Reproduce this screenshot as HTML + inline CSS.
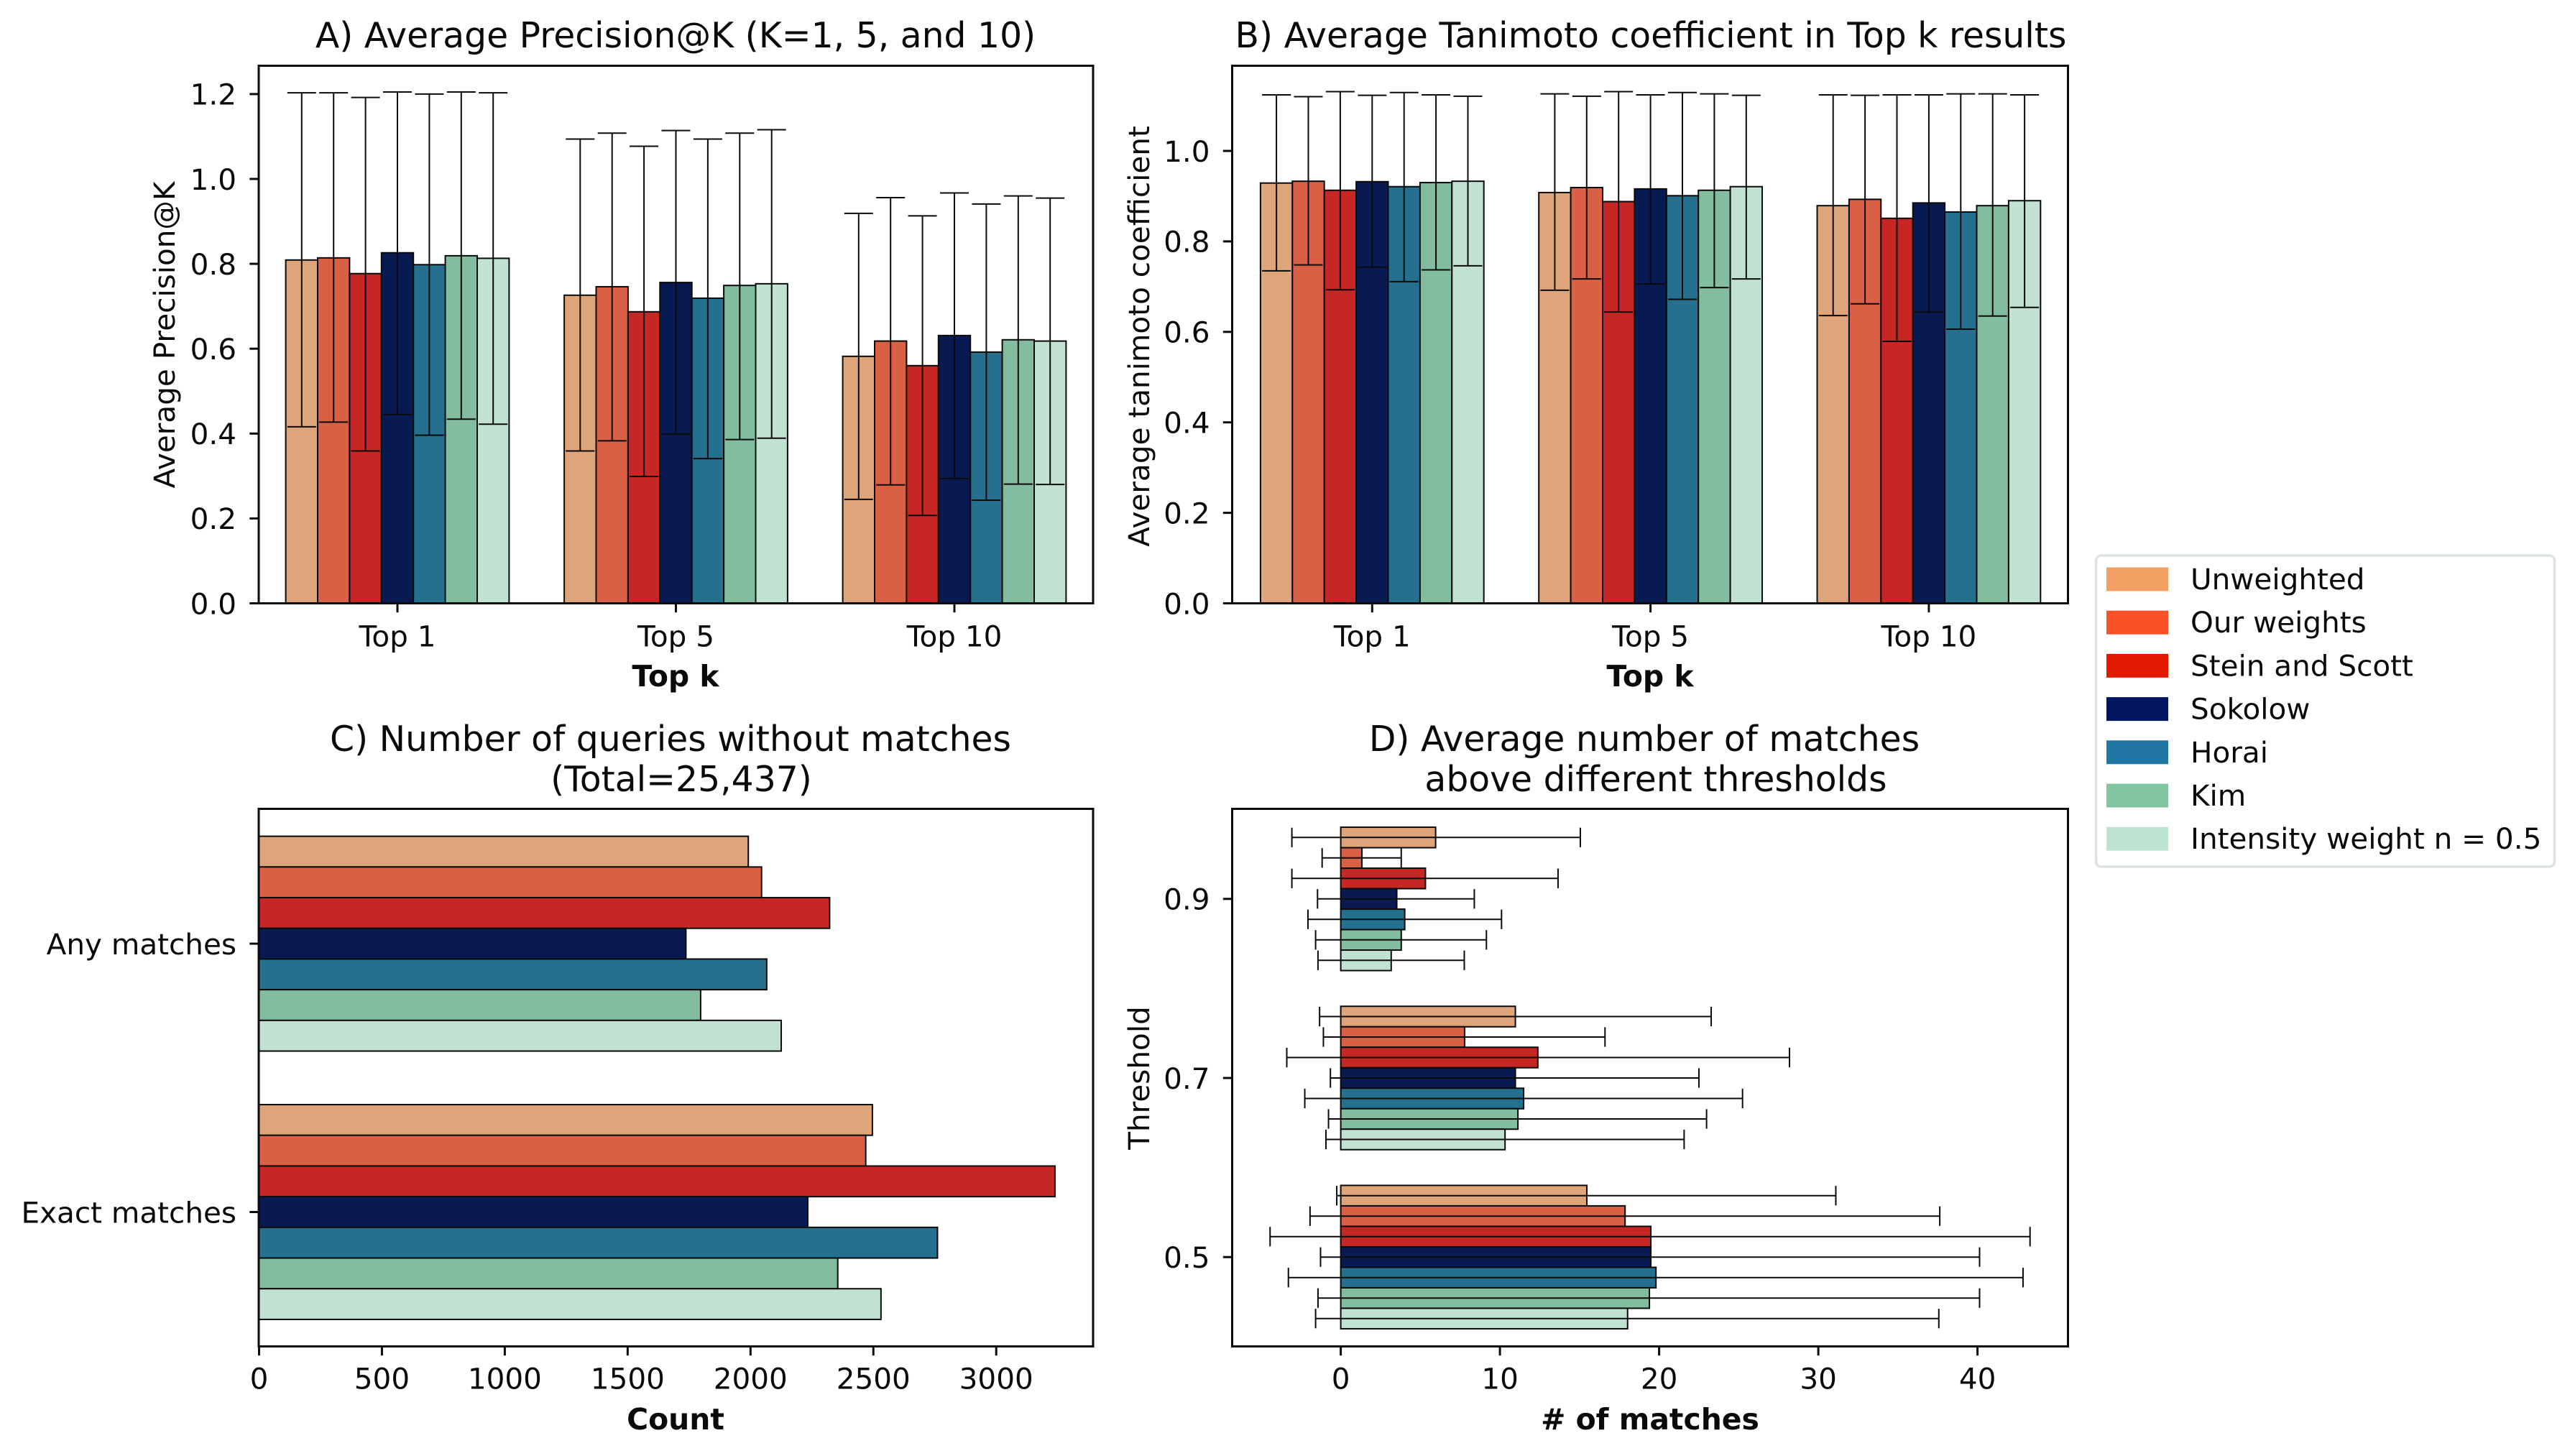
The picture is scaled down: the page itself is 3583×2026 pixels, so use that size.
<!DOCTYPE html>
<html lang="en">
<head>
<meta charset="utf-8">
<title>Chart figure</title>
<style>
html,body{margin:0;padding:0;background:#fff;width:3583px;height:2026px;overflow:hidden}
svg{display:block}
text{font-family:"DejaVu Sans","Liberation Sans",sans-serif;fill:#0a0a0a}
.t{font-size:48.8px}
.tk{font-size:40.5px}
.b{font-size:40.9px;font-weight:bold}
</style>
</head>
<body>
<svg id="fig" xmlns="http://www.w3.org/2000/svg" width="3583" height="2026" viewBox="0 0 3583 2026">
<rect x="0" y="0" width="3583" height="2026" fill="#ffffff"/>
<g id="marks"></g>
<text class="t" x="940" y="66" text-anchor="middle">A) Average Precision@K (K=1, 5, and 10)</text>
<text class="t" x="2297" y="66" text-anchor="middle">B) Average Tanimoto coefficient in Top k results</text>
<text class="t" x="933" y="1045" text-anchor="middle">C) Number of queries without matches</text>
<text class="t" x="948" y="1101" text-anchor="middle">(Total=25,437)</text>
<text class="t" x="2288" y="1045" text-anchor="middle">D) Average number of matches</text>
<text class="t" x="2304" y="1101" text-anchor="middle">above different thresholds</text>
<text class="tk" transform="translate(243,466) rotate(-90)" text-anchor="middle">Average Precision@K</text>
<text class="tk" transform="translate(1599,468) rotate(-90)" text-anchor="middle">Average tanimoto coefficient</text>
<text class="tk" transform="translate(1599,1500) rotate(-90)" text-anchor="middle">Threshold</text>
<text class="b" x="940" y="955" text-anchor="middle">Top k</text>
<text class="b" x="2296" y="955" text-anchor="middle">Top k</text>
<text class="b" x="940" y="1989" text-anchor="middle">Count</text>
<text class="b" x="2296" y="1989" text-anchor="middle"># of matches</text>
<g id="legend">
<rect x="2916.5" y="773" width="638" height="433" rx="7" ry="7" fill="#ffffff" stroke="#dde3e3" stroke-width="3.5"/>
</g>
</svg>
<script>
// Shared series
const seriesNames = ["Unweighted", "Our weights", "Stein and Scott", "Sokolow", "Horai", "Kim", "Intensity weight n = 0.5"];
const barColors = ["#dfa57a", "#d96044", "#c52724", "#091a52", "#24708e", "#82bd9f", "#c1e2d1"];
const legendColors = ["#f3a064", "#fa5028", "#e11900", "#00145f", "#2176a3", "#80c59e", "#bde4d0"];

// Panel A: Average Precision@K
const topKCategories = ["Top 1", "Top 5", "Top 10"];
const precisionTicks = [0, 0.2, 0.4, 0.6, 0.8, 1.0, 1.2];
const precisionMeans = [
  [0.809, 0.814, 0.777, 0.826, 0.798, 0.819, 0.813],
  [0.726, 0.746, 0.687, 0.756, 0.719, 0.749, 0.753],
  [0.582, 0.618, 0.560, 0.631, 0.592, 0.621, 0.618]
];
const precisionHigh = [
  [1.203, 1.203, 1.192, 1.205, 1.200, 1.205, 1.203],
  [1.094, 1.108, 1.077, 1.114, 1.094, 1.108, 1.116],
  [0.919, 0.956, 0.913, 0.967, 0.941, 0.960, 0.955]
];
const precisionLow = [
  [0.416, 0.427, 0.359, 0.445, 0.396, 0.434, 0.422],
  [0.359, 0.383, 0.299, 0.399, 0.341, 0.386, 0.389],
  [0.245, 0.279, 0.207, 0.294, 0.243, 0.281, 0.280]
];

// Panel B: Average Tanimoto coefficient
const tanimotoTicks = [0, 0.2, 0.4, 0.6, 0.8, 1.0];
const tanimotoMeans = [
  [0.929, 0.933, 0.913, 0.932, 0.921, 0.930, 0.933],
  [0.908, 0.919, 0.888, 0.916, 0.901, 0.913, 0.921],
  [0.879, 0.893, 0.851, 0.885, 0.865, 0.879, 0.890]
];
const tanimotoHigh = [
  [1.124, 1.120, 1.131, 1.123, 1.129, 1.124, 1.121],
  [1.126, 1.121, 1.131, 1.124, 1.129, 1.126, 1.123],
  [1.124, 1.123, 1.124, 1.124, 1.126, 1.126, 1.124]
];
const tanimotoLow = [
  [0.735, 0.748, 0.693, 0.743, 0.711, 0.737, 0.746],
  [0.692, 0.717, 0.644, 0.706, 0.672, 0.698, 0.717],
  [0.636, 0.662, 0.579, 0.644, 0.606, 0.635, 0.654]
];

// Panel C: Queries without matches
const noMatchCategories = ["Any matches", "Exact matches"];
const countTicks = [0, 500, 1000, 1500, 2000, 2500, 3000];
const noMatchCounts = [
  [1991, 2045, 2322, 1737, 2066, 1797, 2125],
  [2496, 2469, 3239, 2233, 2761, 2355, 2531]
];

// Panel D: Matches above thresholds
const thresholdCategories = ["0.9", "0.7", "0.5"];
const matchTicks = [0, 10, 20, 30, 40];
const matchMeans = [
  [5.96, 1.33, 5.32, 3.52, 4.02, 3.80, 3.17],
  [10.97, 7.78, 12.38, 10.97, 11.49, 11.13, 10.32],
  [15.46, 17.86, 19.48, 19.48, 19.80, 19.39, 18.02]
];
const matchLow = [
  [-3.07, -1.17, -3.07, -1.46, -2.06, -1.58, -1.43],
  [-1.33, -1.09, -3.39, -0.65, -2.26, -0.77, -0.93],
  [-0.25, -1.93, -4.44, -1.27, -3.29, -1.43, -1.58]
];
const matchHigh = [
  [15.05, 3.80, 13.65, 8.39, 10.10, 9.15, 7.76],
  [23.27, 16.60, 28.19, 22.50, 25.24, 22.98, 21.57],
  [31.10, 37.63, 43.30, 40.13, 42.86, 40.13, 37.57]
];

const NS = "http://www.w3.org/2000/svg";
const marks = document.getElementById("marks");
const legend = document.getElementById("legend");
const INK = "#0a0a0a";

function make(tag, attrs, parent) {
  const el = document.createElementNS(NS, tag);
  for (const k in attrs) el.setAttribute(k, attrs[k]);
  parent.appendChild(el);
  return el;
}
function line(x1, y1, x2, y2, w, name, parent) {
  const el = make("line", {x1: x1, y1: y1, x2: x2, y2: y2, stroke: INK, "stroke-width": w}, parent);
  
  
  return el;
}
function label(x, y, str, anchor, name, parent) {
  const el = make("text", {x: x, y: y, "text-anchor": anchor, "class": "tk"}, parent);
  el.textContent = str;
  
  
  return el;
}
function frame(box, name, parent) {
  const el = make("rect", {x: box.l, y: box.t, width: box.r - box.l, height: box.b - box.t, fill: "none", stroke: INK, "stroke-width": 3}, parent);
  
  
}
function bar(x, y, w, h, color, name, parent) {
  const el = make("rect", {x: x, y: y, width: w, height: h, fill: color, stroke: INK, "stroke-width": 2}, parent);
  
  
}

const TICK = 12.7;
const CAP = 20;

function verticalPanel(id, box, xOf, yOf, bw, cats, ticks, means, lows, highs) {
  const g = make("g", {}, marks);
  
  
  means.forEach(function (row, i) {
    row.forEach(function (v, j) {
      const cx = xOf(i) + (j - 3) * bw;
      bar(cx - bw / 2, yOf(v), bw, yOf(0) - yOf(v), barColors[j], id + '-bar', g);
    });
  });
  means.forEach(function (row, i) {
    row.forEach(function (v, j) {
      const cx = xOf(i) + (j - 3) * bw;
      line(cx, yOf(lows[i][j]), cx, yOf(highs[i][j]), 2, id + '-error-bar', g);
      line(cx - CAP, yOf(highs[i][j]), cx + CAP, yOf(highs[i][j]), 2, id + '-error-cap-high', g);
      line(cx - CAP, yOf(lows[i][j]), cx + CAP, yOf(lows[i][j]), 2, id + '-error-cap-low', g);
    });
  });
  ticks.forEach(function (t) {
    line(box.l - TICK, yOf(t), box.l, yOf(t), 3, id + '-y-tick', g);
    label(box.l - 31, yOf(t) + 14.8, t.toFixed(1), "end", id + '-y-tick-label', g);
  });
  cats.forEach(function (c, i) {
    line(xOf(i), box.b, xOf(i), box.b + TICK, 3, id + '-x-tick', g);
    label(xOf(i), box.b + 60, c, "middle", id + '-x-tick-label', g);
  });
  frame(box, id + '-axes-frame', g);
}

function horizontalPanel(id, box, xOf, yOf, bh, cats, ticks, means, lows, highs) {
  const g = make("g", {}, marks);
  
  
  means.forEach(function (row, i) {
    row.forEach(function (v, j) {
      const cy = yOf(i) + (j - 3) * bh;
      bar(xOf(0), cy - bh / 2, xOf(v) - xOf(0), bh, barColors[j], id + '-bar', g);
    });
  });
  if (lows) {
    means.forEach(function (row, i) {
      row.forEach(function (v, j) {
        const cy = yOf(i) + (j - 3) * bh;
        line(xOf(lows[i][j]), cy, xOf(highs[i][j]), cy, 2, id + '-error-bar', g);
        line(xOf(lows[i][j]), cy - CAP * 0.68, xOf(lows[i][j]), cy + CAP * 0.68, 2, id + '-error-cap-low', g);
        line(xOf(highs[i][j]), cy - CAP * 0.68, xOf(highs[i][j]), cy + CAP * 0.68, 2, id + '-error-cap-high', g);
      });
    });
  }
  ticks.forEach(function (t) {
    line(xOf(t), box.b, xOf(t), box.b + TICK, 3, id + '-x-tick', g);
    label(xOf(t), box.b + 59, String(t), "middle", id + '-x-tick-label', g);
  });
  cats.forEach(function (c, i) {
    line(box.l - TICK, yOf(i), box.l, yOf(i), 3, id + '-y-tick', g);
    label(box.l - 31, yOf(i) + 14.8, c, "end", id + '-y-tick-label', g);
  });
  frame(box, id + '-axes-frame', g);
}

const boxA = {l: 360, r: 1521, t: 91.5, b: 839.5};
const boxB = {l: 1714.5, r: 2877.5, t: 91.5, b: 839.5};
const boxC = {l: 360, r: 1521, t: 1125.5, b: 1873.5};
const boxD = {l: 1714.5, r: 2877.5, t: 1125.5, b: 1873.5};

function xA(i) { return 553 + 387.5 * i; }
function yA(v) { return 839.5 - 590.5 * v; }
function xB(i) { return 1909.3 + 387.3 * i; }
function yB(v) { return 839.5 - 629.5 * v; }
function xC(v) { return 360.5 + 0.3419 * v; }
function yC(i) { return 1313.1 + 373.4 * i; }
function xD(v) { return 1865.6 + 22.15 * v; }
function yD(i) { return 1250.8 + 249.2 * i; }

verticalPanel("panel-a", boxA, xA, yA, 44.4, topKCategories, precisionTicks, precisionMeans, precisionLow, precisionHigh);
verticalPanel("panel-b", boxB, xB, yB, 44.4, topKCategories, tanimotoTicks, tanimotoMeans, tanimotoLow, tanimotoHigh);
horizontalPanel("panel-c", boxC, xC, yC, 42.7, noMatchCategories, countTicks, noMatchCounts, null, null);
horizontalPanel("panel-d", boxD, xD, yD, 28.5, thresholdCategories, matchTicks, matchMeans, matchLow, matchHigh);

seriesNames.forEach(function (name, j) {
  const top = 789.5 + 60.2 * j;
  const swatch = make("rect", {x: 2931, y: top, width: 86, height: 33, fill: legendColors[j]}, legend);
  
  
  label(3048, top + 30.5, name, "start", 'legend-entry', legend);
});
</script>
</body>
</html>
